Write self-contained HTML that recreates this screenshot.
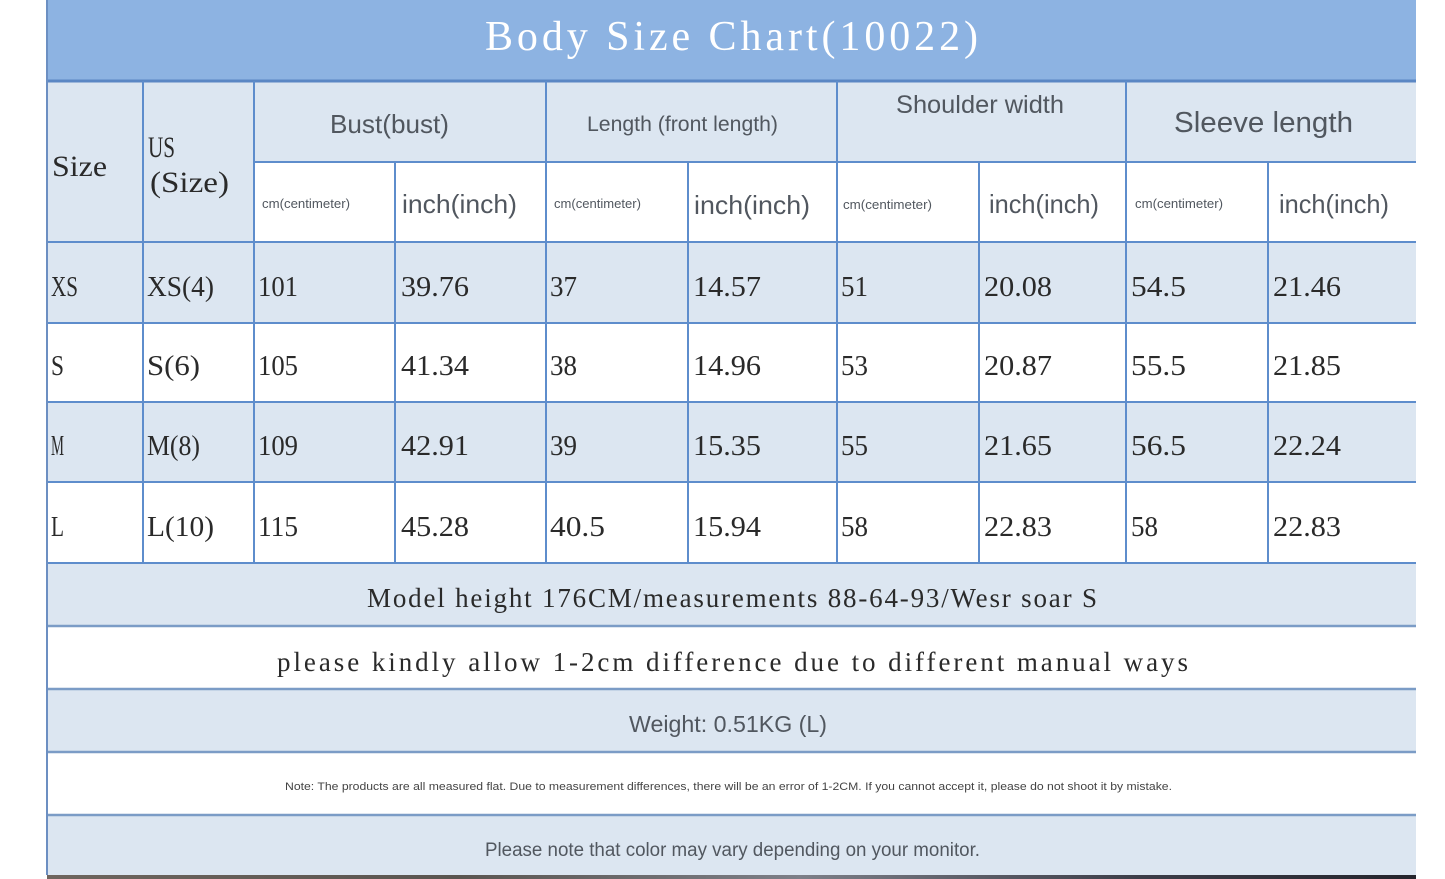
<!DOCTYPE html>
<html>
<head>
<meta charset="utf-8">
<style>
  html,body{margin:0;padding:0;background:#fff;}
  svg{display:block;}
  .m{font-family:"Liberation Serif","Noto Serif CJK SC",serif;fill:#2a2a2a;}
  .s{font-family:"Liberation Sans","Noto Sans CJK SC",sans-serif;fill:#51575f;}
</style>
</head>
<body>
<svg width="1445" height="879" viewBox="0 0 1445 879" xmlns="http://www.w3.org/2000/svg">
  <defs>
    <linearGradient id="strip" x1="0" y1="0" x2="1" y2="0">
      <stop offset="0" stop-color="#6e655e"/>
      <stop offset="0.3" stop-color="#5a5550"/>
      <stop offset="0.55" stop-color="#7d7f88"/>
      <stop offset="0.8" stop-color="#3c3d48"/>
      <stop offset="1" stop-color="#25252d"/>
    </linearGradient>
  </defs>

  <!-- backgrounds -->
  <rect x="47" y="0" width="1369" height="81" fill="#8db3e2"/>
  <rect x="47" y="81" width="1369" height="81" fill="#dce6f1"/>
  <rect x="47" y="162" width="207" height="80" fill="#dce6f1"/>
  <rect x="254" y="162" width="1162" height="80" fill="#ffffff"/>
  <rect x="47" y="242" width="1369" height="81" fill="#dce6f1"/>
  <rect x="47" y="323" width="1369" height="79" fill="#ffffff"/>
  <rect x="47" y="402" width="1369" height="80" fill="#dce6f1"/>
  <rect x="47" y="482" width="1369" height="81" fill="#ffffff"/>
  <rect x="47" y="563" width="1369" height="63" fill="#dce6f1"/>
  <rect x="47" y="626" width="1369" height="63" fill="#ffffff"/>
  <rect x="47" y="689" width="1369" height="63" fill="#dce6f1"/>
  <rect x="47" y="752" width="1369" height="63" fill="#ffffff"/>
  <rect x="47" y="815" width="1369" height="60" fill="#dce6f1"/>
  <rect x="47" y="875" width="1369" height="4" fill="url(#strip)"/>

  <!-- horizontal lines -->
  <g stroke="#5b87c4">
    <line x1="47" y1="81" x2="1416" y2="81" stroke-width="3"/>
  </g>
  <g stroke="#5e8dcc" stroke-width="2">
    <line x1="254" y1="162" x2="1416" y2="162"/>
    <line x1="47" y1="242" x2="1416" y2="242"/>
    <line x1="47" y1="323" x2="1416" y2="323"/>
    <line x1="47" y1="402" x2="1416" y2="402"/>
    <line x1="47" y1="482" x2="1416" y2="482"/>
    <line x1="47" y1="563" x2="1416" y2="563"/>
  </g>
  <g stroke="#7b9cc6" stroke-width="2.5">
    <line x1="47" y1="626" x2="1416" y2="626"/>
    <line x1="47" y1="689" x2="1416" y2="689"/>
    <line x1="47" y1="752" x2="1416" y2="752"/>
    <line x1="47" y1="815" x2="1416" y2="815"/>
  </g>

  <!-- vertical lines -->
  <line x1="47" y1="0" x2="47" y2="875" stroke="#6c8fc2" stroke-width="2"/>
  <g stroke="#5e8dcc" stroke-width="2">
    <line x1="143" y1="81" x2="143" y2="563"/>
    <line x1="254" y1="81" x2="254" y2="563"/>
    <line x1="546" y1="81" x2="546" y2="563"/>
    <line x1="837" y1="81" x2="837" y2="563"/>
    <line x1="1126" y1="81" x2="1126" y2="563"/>
    <line x1="395" y1="162" x2="395" y2="563"/>
    <line x1="688" y1="162" x2="688" y2="563"/>
    <line x1="979" y1="162" x2="979" y2="563"/>
    <line x1="1268" y1="162" x2="1268" y2="563"/>
  </g>

  <!-- title -->
  <text class="m" x="485" y="50" font-size="42" style="fill:#ffffff" textLength="493" lengthAdjust="spacing">Body Size Chart(10022)</text>

  <!-- header mono -->
  <text class="m" x="52" y="176" font-size="30" textLength="55" lengthAdjust="spacingAndGlyphs">Size</text>
  <text class="m" x="148" y="157" font-size="30" textLength="27" lengthAdjust="spacingAndGlyphs">US</text>
  <text class="m" x="150" y="192" font-size="30" textLength="79" lengthAdjust="spacingAndGlyphs">(Size)</text>

  <!-- group headers -->
  <text class="s" x="330" y="133" font-size="26" textLength="119" lengthAdjust="spacingAndGlyphs">Bust(bust)</text>
  <text class="s" x="587" y="131" font-size="21" textLength="191" lengthAdjust="spacingAndGlyphs">Length (front length)</text>
  <text class="s" x="896" y="113" font-size="25" textLength="168" lengthAdjust="spacingAndGlyphs">Shoulder width</text>
  <text class="s" x="1174" y="132" font-size="29" textLength="179" lengthAdjust="spacingAndGlyphs">Sleeve length</text>

  <!-- sub headers -->
  <g font-size="13">
    <text class="s" x="262" y="208" textLength="88" lengthAdjust="spacingAndGlyphs">cm(centimeter)</text>
    <text class="s" x="554" y="208" textLength="87" lengthAdjust="spacingAndGlyphs">cm(centimeter)</text>
    <text class="s" x="843" y="209" textLength="89" lengthAdjust="spacingAndGlyphs">cm(centimeter)</text>
    <text class="s" x="1135" y="208" textLength="88" lengthAdjust="spacingAndGlyphs">cm(centimeter)</text>
  </g>
  <g font-size="26">
    <text class="s" x="402" y="213" textLength="115" lengthAdjust="spacingAndGlyphs">inch(inch)</text>
    <text class="s" x="694" y="214" textLength="116" lengthAdjust="spacingAndGlyphs">inch(inch)</text>
    <text class="s" x="989" y="213" textLength="110" lengthAdjust="spacingAndGlyphs">inch(inch)</text>
    <text class="s" x="1279" y="213" textLength="110" lengthAdjust="spacingAndGlyphs">inch(inch)</text>
  </g>

  <!-- data rows -->
  <g font-size="29">
    <!-- XS -->
    <text class="m" x="51" y="296" textLength="27" lengthAdjust="spacingAndGlyphs">XS</text>
    <text class="m" x="147" y="296" textLength="67" lengthAdjust="spacingAndGlyphs">XS(4)</text>
    <text class="m" x="258" y="296" textLength="40" lengthAdjust="spacingAndGlyphs">101</text>
    <text class="m" x="401" y="296" textLength="68" lengthAdjust="spacingAndGlyphs">39.76</text>
    <text class="m" x="550" y="296" textLength="27" lengthAdjust="spacingAndGlyphs">37</text>
    <text class="m" x="693" y="296" textLength="68" lengthAdjust="spacingAndGlyphs">14.57</text>
    <text class="m" x="841" y="296" textLength="27" lengthAdjust="spacingAndGlyphs">51</text>
    <text class="m" x="984" y="296" textLength="68" lengthAdjust="spacingAndGlyphs">20.08</text>
    <text class="m" x="1131" y="296" textLength="55" lengthAdjust="spacingAndGlyphs">54.5</text>
    <text class="m" x="1273" y="296" textLength="68" lengthAdjust="spacingAndGlyphs">21.46</text>
    <!-- S -->
    <text class="m" x="51" y="375" textLength="13" lengthAdjust="spacingAndGlyphs">S</text>
    <text class="m" x="147" y="375" textLength="53" lengthAdjust="spacingAndGlyphs">S(6)</text>
    <text class="m" x="258" y="375" textLength="40" lengthAdjust="spacingAndGlyphs">105</text>
    <text class="m" x="401" y="375" textLength="68" lengthAdjust="spacingAndGlyphs">41.34</text>
    <text class="m" x="550" y="375" textLength="27" lengthAdjust="spacingAndGlyphs">38</text>
    <text class="m" x="693" y="375" textLength="68" lengthAdjust="spacingAndGlyphs">14.96</text>
    <text class="m" x="841" y="375" textLength="27" lengthAdjust="spacingAndGlyphs">53</text>
    <text class="m" x="984" y="375" textLength="68" lengthAdjust="spacingAndGlyphs">20.87</text>
    <text class="m" x="1131" y="375" textLength="55" lengthAdjust="spacingAndGlyphs">55.5</text>
    <text class="m" x="1273" y="375" textLength="68" lengthAdjust="spacingAndGlyphs">21.85</text>
    <!-- M -->
    <text class="m" x="51" y="455" textLength="13" lengthAdjust="spacingAndGlyphs">M</text>
    <text class="m" x="147" y="455" textLength="53" lengthAdjust="spacingAndGlyphs">M(8)</text>
    <text class="m" x="258" y="455" textLength="40" lengthAdjust="spacingAndGlyphs">109</text>
    <text class="m" x="401" y="455" textLength="68" lengthAdjust="spacingAndGlyphs">42.91</text>
    <text class="m" x="550" y="455" textLength="27" lengthAdjust="spacingAndGlyphs">39</text>
    <text class="m" x="693" y="455" textLength="68" lengthAdjust="spacingAndGlyphs">15.35</text>
    <text class="m" x="841" y="455" textLength="27" lengthAdjust="spacingAndGlyphs">55</text>
    <text class="m" x="984" y="455" textLength="68" lengthAdjust="spacingAndGlyphs">21.65</text>
    <text class="m" x="1131" y="455" textLength="55" lengthAdjust="spacingAndGlyphs">56.5</text>
    <text class="m" x="1273" y="455" textLength="68" lengthAdjust="spacingAndGlyphs">22.24</text>
    <!-- L -->
    <text class="m" x="51" y="536" textLength="13" lengthAdjust="spacingAndGlyphs">L</text>
    <text class="m" x="147" y="536" textLength="67" lengthAdjust="spacingAndGlyphs">L(10)</text>
    <text class="m" x="258" y="536" textLength="40" lengthAdjust="spacingAndGlyphs">115</text>
    <text class="m" x="401" y="536" textLength="68" lengthAdjust="spacingAndGlyphs">45.28</text>
    <text class="m" x="550" y="536" textLength="55" lengthAdjust="spacingAndGlyphs">40.5</text>
    <text class="m" x="693" y="536" textLength="68" lengthAdjust="spacingAndGlyphs">15.94</text>
    <text class="m" x="841" y="536" textLength="27" lengthAdjust="spacingAndGlyphs">58</text>
    <text class="m" x="984" y="536" textLength="68" lengthAdjust="spacingAndGlyphs">22.83</text>
    <text class="m" x="1131" y="536" textLength="27" lengthAdjust="spacingAndGlyphs">58</text>
    <text class="m" x="1273" y="536" textLength="68" lengthAdjust="spacingAndGlyphs">22.83</text>
  </g>

  <!-- footer rows -->
  <text class="m" x="367" y="607" font-size="27" textLength="730" lengthAdjust="spacing">Model height 176CM/measurements 88-64-93/Wesr soar S</text>
  <text class="m" x="277" y="671" font-size="27" textLength="911" lengthAdjust="spacing">please kindly allow 1-2cm difference due to different manual ways</text>
  <text class="s" x="629" y="732" font-size="23" textLength="198" lengthAdjust="spacingAndGlyphs">Weight: 0.51KG (L)</text>
  <text class="s" x="285" y="790" font-size="11" style="fill:#444" textLength="887" lengthAdjust="spacingAndGlyphs">Note: The products are all measured flat. Due to measurement differences, there will be an error of 1-2CM. If you cannot accept it, please do not shoot it by mistake.</text>
  <text class="s" x="485" y="856" font-size="19" textLength="495" lengthAdjust="spacingAndGlyphs">Please note that color may vary depending on your monitor.</text>
</svg>
</body>
</html>
